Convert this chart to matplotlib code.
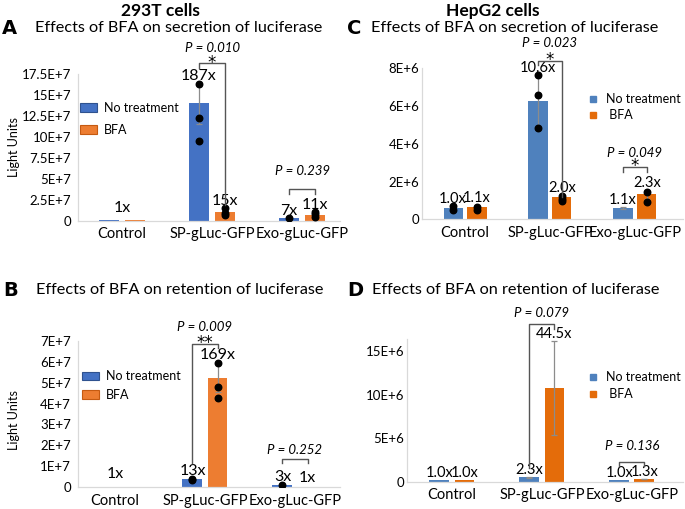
import matplotlib
matplotlib.use("Agg")
import matplotlib.pyplot as plt
from matplotlib.patches import Patch
from matplotlib.lines import Line2D

plt.rcParams['font.family'] = ['Lato', 'DejaVu Sans']

W, H = 685, 509

categories = ["Control", "SP-gLuc-GFP", "Exo-gLuc-GFP"]
series_names = ["No treatment", "BFA"]

# Panel A: 293T secretion
a_nt = [0.075e7, 14.0e7, 0.4e7]
a_bfa = [0.075e7, 1.07e7, 0.76e7]
a_nt_err = [0, 2.4e7, 0]
a_bfa_err = [0, 0, 0]
a_nt_pts = [[], [16.3e7, 12.3e7, 9.5e7], [0.4e7]]
a_bfa_pts = [[], [1.6e7, 0.92e7, 0.68e7], [1.07e7, 0.8e7, 0.48e7]]
a_nt_lab = ["", "187x", "7x"]
a_bfa_lab = ["", "15x", "11x"]
a_grp_lab = ["1x", "", ""]
a_yticks = [0, 2.5e7, 5e7, 7.5e7, 10e7, 12.5e7, 15e7, 17.5e7]
a_yticklabels = ["0", "2.5E+7", "5E+7", "7.5E+7", "10E+7", "12.5E+7", "15E+7", "17.5E+7"]

# Panel B: 293T retention
b_nt = [0.03e7, 0.38e7, 0.1e7]
b_bfa = [0.03e7, 5.23e7, 0.03e7]
b_nt_err = [0, 0, 0]
b_bfa_err = [0, 0.7e7, 0]
b_nt_pts = [[], [0.4e7, 0.36e7], [0.1e7]]
b_bfa_pts = [[], [5.92e7, 4.77e7, 4.25e7], []]
b_nt_lab = ["", "13x", "3x"]
b_bfa_lab = ["", "169x", "1x"]
b_grp_lab = ["1x", "", ""]
b_yticks = [0, 1e7, 2e7, 3e7, 4e7, 5e7, 6e7, 7e7]
b_yticklabels = ["0", "1E+7", "2E+7", "3E+7", "4E+7", "5E+7", "6E+7", "7E+7"]

# Panel C: HepG2 secretion
c_nt = [0.58e6, 6.26e6, 0.58e6]
c_bfa = [0.67e6, 1.17e6, 1.32e6]
c_nt_err = [0.1e6, 1.4e6, 0.05e6]
c_bfa_err = [0.1e6, 0.1e6, 0.25e6]
c_nt_pts = [[0.7e6, 0.49e6], [7.65e6, 6.58e6, 4.82e6], []]
c_bfa_pts = [[0.64e6, 0.5e6], [1.25e6, 1.08e6, 0.97e6], [1.46e6, 0.93e6]]
c_nt_lab = ["1.0x", "10.6x", "1.1x"]
c_bfa_lab = ["1.1x", "2.0x", "2.3x"]
c_grp_lab = ["", "", ""]
c_yticks = [0, 2e6, 4e6, 6e6, 8e6]
c_yticklabels = ["0", "2E+6", "4E+6", "6E+6", "8E+6"]

# Panel D: HepG2 retention
d_nt = [0.24e6, 0.5e6, 0.24e6]
d_bfa = [0.24e6, 10.82e6, 0.31e6]
d_nt_err = [0, 0.05e6, 0]
d_bfa_err = [0, 5.4e6, 0.05e6]
d_nt_pts = [[], [], []]
d_bfa_pts = [[], [], []]
d_nt_lab = ["1.0x", "2.3x", "1.0x"]
d_bfa_lab = ["1.0x", "44.5x", "1.3x"]
d_grp_lab = ["", "", ""]
d_yticks = [0, 5e6, 10e6, 15e6]
d_yticklabels = ["0", "5E+6", "10E+6", "15E+6"]


def add_ax(left, top, right, bottom):
    return plt.gcf().add_axes([left / W, 1 - bottom / H, (right - left) / W, (bottom - top) / H])


def ftext(x, y, s, **kw):
    plt.gcf().text(x / W, 1 - y / H, s, **kw)


fig = plt.figure(figsize=(W / 100, H / 100), dpi=100)


def panel(box, xlim, ylim, nt, bfa, nt_err, bfa_err, nt_pts, bfa_pts,
          nt_lab, bfa_lab, grp_lab, yticks, yticklabels, colors, off, width,
          lab_pad, lab_size, ypad, brackets, ylabel=None):
    ax = add_ax(*box)
    xs = list(range(len(categories)))
    x_nt = [x - off for x in xs]
    x_bfa = [x + off for x in xs]
    ax.bar(x_nt, nt, width, color=colors[0], zorder=2)
    ax.bar(x_bfa, bfa, width, color=colors[1], zorder=2)
    for xv, v, e in zip(x_nt + x_bfa, nt + bfa, nt_err + bfa_err):
        if e > 0:
            ax.errorbar(xv, v, yerr=e, color='#8c8c8c', lw=0.9, capsize=2.5,
                        capthick=0.9, zorder=3)
    for xv, pts in zip(x_nt + x_bfa, nt_pts + bfa_pts):
        if pts:
            ax.scatter([xv] * len(pts), pts, s=22, color='black', zorder=4)
    for i in xs:
        for xv, v, e, pts, lab in ((x_nt[i], nt[i], nt_err[i], nt_pts[i], nt_lab[i]),
                                   (x_bfa[i], bfa[i], bfa_err[i], bfa_pts[i], bfa_lab[i])):
            if lab:
                top = max([v + e] + list(pts))
                ax.annotate(lab, (xv, top), xytext=(0, lab_pad), textcoords='offset points',
                            ha='center', va='bottom', fontsize=lab_size, zorder=5)
        if grp_lab[i]:
            top = max(nt[i], bfa[i])
            ax.annotate(grp_lab[i], (i, top), xytext=(0, 4), textcoords='offset points',
                        ha='center', va='bottom', fontsize=lab_size)
    for (ci, ytop, yl, yr, star, ptxt, yp) in brackets:
        xl, xr = ci - off, ci + off
        ax.plot([xl, xl, xr, xr], [yl, ytop, ytop, yr], color='#555555', lw=1.0,
                clip_on=False, zorder=5)
        if star:
            ax.annotate(star, (ci, ytop), xytext=(0, -3.2), textcoords='offset points',
                        ha='center', va='baseline', fontsize=12,
                        family='DejaVu Sans', annotation_clip=False)
        ax.text(ci, yp, ptxt, ha='center', va='center', fontsize=9.5,
                style='italic', clip_on=False)
    ax.set_xlim(*xlim)
    ax.set_ylim(*ylim)
    ax.set_xticks(xs)
    ax.set_xticklabels(categories, fontsize=10.5)
    ax.set_yticks(yticks)
    ax.set_yticklabels(yticklabels, fontsize=9.5)
    ax.tick_params(axis='y', length=0, pad=ypad)
    ax.tick_params(axis='x', length=0, pad=4.5)
    for s in ('top', 'right'):
        ax.spines[s].set_visible(False)
    for s in ('left', 'bottom'):
        ax.spines[s].set_color('#d9d9d9')
        ax.spines[s].set_linewidth(0.9)
    ax.patch.set_alpha(0)
    if ylabel:
        ax.set_ylabel(ylabel, fontsize=9)
    return ax


AB_COL = ['#4472C4', '#ED7D31']
CD_COL = ['#4F81BD', '#E46C0A']

# Panel A
axA = panel((78, 74, 340, 221), (-0.489, 2.422), (0, 17.5e7),
            a_nt, a_bfa, a_nt_err, a_bfa_err, a_nt_pts, a_bfa_pts,
            a_nt_lab, a_bfa_lab, a_grp_lab, a_yticks, a_yticklabels, AB_COL,
            0.144, 0.222, 0, 11.5, 5,
            [(1, 18.8e7, 18.2e7, 1.87e7, '*', 'P = 0.010', 20.6e7),
             (2, 3.77e7, 3.2e7, 3.2e7, '', 'P = 0.239', 5.9e7)],
            ylabel='Light Units')
axA.yaxis.set_label_coords(-0.221, 0.5)

# Panel B
axB = panel((78, 340.7, 340, 487.3), (-0.411, 2.5), (0, 7e7),
            b_nt, b_bfa, b_nt_err, b_bfa_err, b_nt_pts, b_bfa_pts,
            b_nt_lab, b_bfa_lab, b_grp_lab, b_yticks, b_yticklabels, AB_COL,
            0.139, 0.222, 1, 11.5, 5,
            [(1, 6.84e7, 1.16e7, 6.65e7, '**', 'P = 0.009', 7.66e7),
             (2, 1.35e7, 1.16e7, 1.16e7, '', 'P = 0.252', 1.78e7)],
            ylabel='Light Units')
axB.yaxis.set_label_coords(-0.221, 0.46)

# Panel C
axC = panel((422, 68.3, 683, 219.3), (-0.506, 2.565), (0, 8e6),
            c_nt, c_bfa, c_nt_err, c_bfa_err, c_nt_pts, c_bfa_pts,
            c_nt_lab, c_bfa_lab, c_grp_lab, c_yticks, c_yticklabels, CD_COL,
            0.141, 0.224, 0, 10.5, 2,
            [(1, 8.39e6, 8.17e6, 1.18e6, '*', 'P = 0.023', 9.34e6),
             (2, 2.77e6, 2.51e6, 2.51e6, '*', 'P = 0.049', 3.51e6)])

# Panel D
axD = panel((407, 339, 683, 481.7), (-0.5, 2.567), (0, 16.4e6),
            d_nt, d_bfa, d_nt_err, d_bfa_err, d_nt_pts, d_bfa_pts,
            d_nt_lab, d_bfa_lab, d_grp_lab, d_yticks, d_yticklabels, CD_COL,
            0.139, 0.222, 0, 10.5, 2,
            [(1, 18.1e6, 1.57e6, 17.5e6, '', 'P = 0.079', 19.4e6),
             (2, 2.26e6, 1.8e6, 1.8e6, '', 'P = 0.136', 4.1e6)])


def rect_handles(cols):
    return [Patch(facecolor=c, edgecolor='#2f528f' if i == 0 else '#c55a11', lw=0.8)
            for i, c in enumerate(cols)]


def sq_handles(cols):
    return [Line2D([], [], marker='s', ls='', markersize=5, color=c) for c in cols]


for ax, (lx, ly, sp) in ((axA, (80, 119, 0.75), ), (axB, (82, 385.5, 0.5))) if False else ():
    pass

for ax, lx, ly, sp in ((axA, 80, 119, 0.75), (axB, 82, 385.5, 0.5)):
    ax.legend(rect_handles(AB_COL), series_names, loc='center left',
              bbox_to_anchor=(lx / W, 1 - ly / H), bbox_transform=fig.transFigure,
              frameon=False, fontsize=9, handlelength=1.36, handleheight=0.72,
              handletextpad=0.56, labelspacing=sp, borderpad=0, borderaxespad=0)

for ax, lx, ly, sp in ((axC, 589, 107, 0.3), (axD, 589, 385.5, 0.38)):
    ax.legend(sq_handles(CD_COL), ["No treatment", " BFA"], loc='center left',
              bbox_to_anchor=(lx / W, 1 - ly / H), bbox_transform=fig.transFigure,
              frameon=False, fontsize=9, handlelength=0.6,
              handletextpad=0.8, labelspacing=sp, borderpad=0, borderaxespad=0)

# Titles
ftext(160, 11, "293T cells", ha='center', va='center', fontsize=12.5, fontweight='bold')
ftext(493, 11, "HepG2 cells", ha='center', va='center', fontsize=12.5, fontweight='bold')
ftext(2, 28, "A", ha='left', va='center', fontsize=14, fontweight='bold', family='DejaVu Sans')
ftext(347, 28, "C", ha='left', va='center', fontsize=14, fontweight='bold', family='DejaVu Sans')
ftext(3, 290, "B", ha='left', va='center', fontsize=14, fontweight='bold', family='DejaVu Sans')
ftext(347, 290, "D", ha='left', va='center', fontsize=14, fontweight='bold', family='DejaVu Sans')
ftext(35, 28, "Effects of BFA on secretion of luciferase", ha='left', va='center', fontsize=11.7)
ftext(371, 28, "Effects of BFA on secretion of luciferase", ha='left', va='center', fontsize=11.7)
ftext(36, 290, "Effects of BFA on retention of luciferase", ha='left', va='center', fontsize=11.7)
ftext(372, 290, "Effects of BFA on retention of luciferase", ha='left', va='center', fontsize=11.7)

fig.savefig("out.png", dpi=100, facecolor='white')
